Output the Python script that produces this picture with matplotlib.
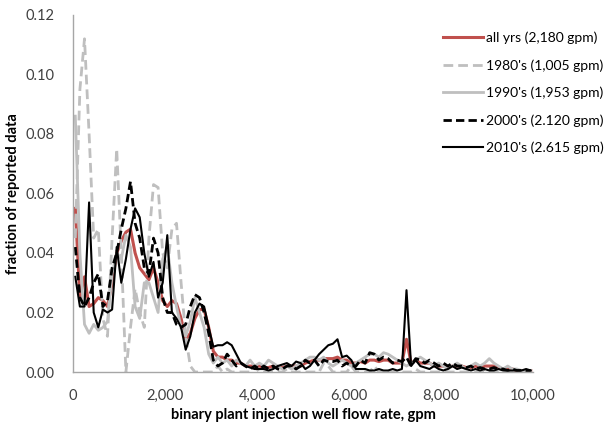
import matplotlib.pyplot as plt
from matplotlib.ticker import FuncFormatter, MultipleLocator

# bin centres, gpm (100 gpm bins)
flow_gpm = [50 + 100 * i for i in range(100)]

all_yrs = [
    0.055, 0.025, 0.032, 0.022, 0.023, 0.025, 0.024, 0.022, 0.030, 0.040,
    0.044, 0.047, 0.048, 0.040, 0.035, 0.033, 0.031, 0.035, 0.030, 0.024,
    0.022, 0.024, 0.023, 0.018, 0.011, 0.013, 0.018, 0.021, 0.021, 0.015,
    0.007, 0.005, 0.005, 0.004, 0.004, 0.003, 0.003, 0.002, 0.002, 0.002,
    0.002, 0.0015, 0.0015, 0.002, 0.0015, 0.0015, 0.002, 0.002, 0.002, 0.002,
    0.003, 0.0035, 0.004, 0.004, 0.0045, 0.0045, 0.0045, 0.005, 0.004, 0.004,
    0.003, 0.003, 0.0035, 0.003, 0.004, 0.004, 0.0035, 0.004, 0.004, 0.003,
    0.003, 0.003, 0.011, 0.003, 0.004, 0.003, 0.003, 0.003, 0.002, 0.002,
    0.002, 0.0015, 0.002, 0.002, 0.002, 0.0015, 0.0015, 0.002, 0.0015, 0.002,
    0.002, 0.002, 0.0015, 0.001, 0.001, 0.001, 0.0005, 0.0005, 0.0005, 0.0005,
]

yrs_1980 = [
    0.045, 0.095, 0.112, 0.080, 0.045, 0.048, 0.018, 0.012, 0.045, 0.075,
    0.040, 0.000, 0.015, 0.028, 0.020, 0.015, 0.045, 0.063, 0.062, 0.040,
    0.035, 0.048, 0.050, 0.030, 0.012, 0.002, 0.000, 0.000, 0.000, 0.000,
    0.000, 0.002, 0.000, 0.001, 0.000, 0.000, 0.000, 0.000, 0.000, 0.002,
    0.000, 0.000, 0.000, 0.000, 0.000, 0.000, 0.001, 0.000, 0.000, 0.000,
    0.000, 0.000, 0.000, 0.000, 0.003, 0.002, 0.000, 0.000, 0.000, 0.000,
    0.002, 0.000, 0.000, 0.000, 0.000, 0.002, 0.000, 0.000, 0.000, 0.000,
    0.000, 0.000, 0.000, 0.000, 0.001, 0.000, 0.000, 0.000, 0.000, 0.000,
    0.000, 0.000, 0.000, 0.000, 0.000, 0.000, 0.000, 0.000, 0.000, 0.000,
    0.000, 0.000, 0.000, 0.000, 0.000, 0.000, 0.000, 0.000, 0.000, 0.000,
]

yrs_1990 = [
    0.086, 0.040, 0.016, 0.013, 0.016, 0.014, 0.015, 0.017, 0.033, 0.040,
    0.038, 0.046, 0.042, 0.022, 0.018, 0.030, 0.030, 0.025, 0.020, 0.038,
    0.042, 0.030, 0.022, 0.015, 0.012, 0.017, 0.025, 0.020, 0.015, 0.006,
    0.003, 0.005, 0.003, 0.004, 0.002, 0.004, 0.003, 0.002, 0.004, 0.002,
    0.003, 0.002, 0.004, 0.003, 0.002, 0.001, 0.002, 0.001, 0.002, 0.003,
    0.004, 0.005, 0.005, 0.004, 0.005, 0.003, 0.002, 0.003, 0.004, 0.003,
    0.002, 0.003, 0.004, 0.005, 0.006, 0.006, 0.005, 0.0065, 0.006, 0.005,
    0.004, 0.003, 0.002, 0.003, 0.004, 0.005, 0.004, 0.003, 0.002, 0.003,
    0.002, 0.001, 0.002, 0.003, 0.002, 0.001, 0.002, 0.003, 0.002, 0.003,
    0.0045, 0.003, 0.002, 0.001, 0.002, 0.001, 0.001, 0.0005, 0.0005, 0.0005,
]

yrs_2000 = [
    0.042, 0.025, 0.022, 0.025, 0.030, 0.033, 0.022, 0.024, 0.035, 0.040,
    0.048, 0.055, 0.064, 0.050, 0.045, 0.035, 0.033, 0.045, 0.040, 0.025,
    0.020, 0.020, 0.016, 0.015, 0.016, 0.022, 0.026, 0.025, 0.020, 0.013,
    0.004, 0.002, 0.003, 0.006, 0.004, 0.002, 0.003, 0.002, 0.001, 0.002,
    0.001, 0.002, 0.001, 0.002, 0.001, 0.001, 0.002, 0.002, 0.001, 0.002,
    0.004, 0.003, 0.004, 0.002, 0.004, 0.0035, 0.0035, 0.004, 0.002, 0.003,
    0.002, 0.002, 0.004, 0.003, 0.0065, 0.006, 0.004, 0.005, 0.0045, 0.003,
    0.004, 0.0035, 0.005, 0.002, 0.0045, 0.004, 0.003, 0.004, 0.003, 0.002,
    0.003, 0.002, 0.003, 0.002, 0.002, 0.0015, 0.002, 0.001, 0.0015, 0.001,
    0.001, 0.0015, 0.001, 0.001, 0.0005, 0.001, 0.0005, 0.0005, 0.0005, 0.0005,
]

yrs_2010 = [
    0.032, 0.022, 0.022, 0.057, 0.020, 0.015, 0.021, 0.020, 0.021, 0.042,
    0.030, 0.038, 0.048, 0.055, 0.052, 0.040, 0.032, 0.037, 0.025, 0.030,
    0.046, 0.020, 0.018, 0.015, 0.0075, 0.012, 0.020, 0.023, 0.022, 0.015,
    0.0085, 0.009, 0.009, 0.010, 0.009, 0.006, 0.003, 0.002, 0.0015, 0.001,
    0.001, 0.001, 0.0005, 0.001, 0.002, 0.0025, 0.003, 0.002, 0.0035, 0.003,
    0.001, 0.002, 0.004, 0.006, 0.0075, 0.009, 0.0095, 0.011, 0.005, 0.0055,
    0.004, 0.001, 0.001, 0.001, 0.0005, 0.0005, 0.001, 0.0005, 0.0005, 0.001,
    0.0005, 0.001, 0.0275, 0.002, 0.004, 0.002, 0.0015, 0.001, 0.002, 0.001,
    0.0005, 0.001, 0.002, 0.001, 0.0015, 0.001, 0.0005, 0.001, 0.0005, 0.001,
    0.0005, 0.0005, 0.001, 0.0005, 0.0005, 0.0005, 0.0005, 0.0005, 0.001, 0.0005,
]

labels = ["all yrs (2,180 gpm)", "1980's (1,005 gpm)", "1990's (1,953 gpm)",
          "2000's (2.120 gpm)", "2010's (2.615 gpm)"]

plt.rcParams["font.family"] = ["Lato", "DejaVu Sans"]

fig = plt.figure(figsize=(6.11, 4.23), dpi=100)
ax = fig.add_axes([73 / 611, 51 / 423, 460 / 611, 357 / 423])

ax.plot(flow_gpm, all_yrs, color="#C0504D", lw=2.2, label=labels[0])
ax.plot(flow_gpm, yrs_1980, color="#BFBFBF", lw=2.0,
        linestyle=(0, (3.5, 1.8)), label=labels[1])
ax.plot(flow_gpm, yrs_1990, color="#BFBFBF", lw=2.0, label=labels[2])
ax.plot(flow_gpm, yrs_2000, color="black", lw=2.0,
        linestyle=(0, (3, 1.5)), label=labels[3])
ax.plot(flow_gpm, yrs_2010, color="black", lw=1.5, label=labels[4])

ax.set_xlim(0, 10000)
ax.set_ylim(0, 0.12)
ax.xaxis.set_major_locator(MultipleLocator(2000))
ax.yaxis.set_major_locator(MultipleLocator(0.02))
ax.xaxis.set_major_formatter(FuncFormatter(lambda v, p: f"{v:,.0f}"))
ax.yaxis.set_major_formatter(FuncFormatter(lambda v, p: f"{v:.2f}"))
ax.tick_params(axis="both", length=0, labelsize=10.5, colors="#404040")
ax.tick_params(axis="y", pad=13)
ax.tick_params(axis="x", pad=12)

for side in ["top", "right"]:
    ax.spines[side].set_visible(False)
for side in ["left", "bottom"]:
    ax.spines[side].set_color("#A6A6A6")
    ax.spines[side].set_linewidth(1.0)

ax.set_xlabel("binary plant injection well flow rate, gpm",
              fontsize=10.5, fontweight="bold", labelpad=4)
ax.set_ylabel("fraction of reported data", fontsize=10.5, fontweight="bold",
              labelpad=4)

fig.legend(loc="upper left", bbox_to_anchor=(437 / 611, 1 - 26 / 423),
           frameon=False, fontsize=10, handlelength=2.9, handletextpad=0.25,
           labelspacing=1.08, borderaxespad=0)

fig.savefig("out.png", dpi=100)
